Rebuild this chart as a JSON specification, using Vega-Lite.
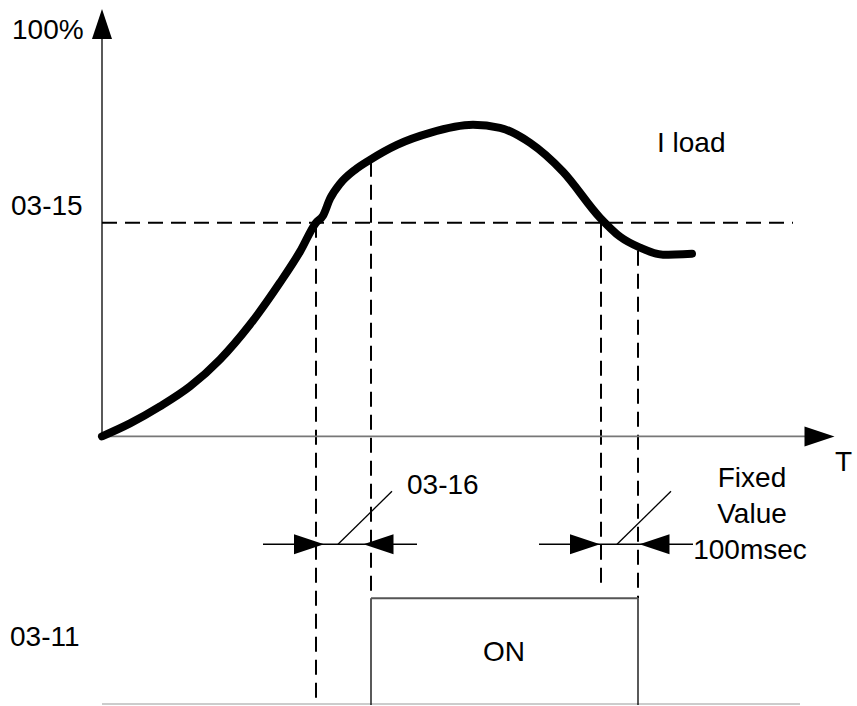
{
  "$schema": "https://vega.github.io/schema/vega-lite/v6.json",
  "width": 857,
  "height": 706,
  "padding": 0,
  "autosize": {"type": "fit", "contains": "padding"},
  "background": "white",
  "config": {"view": {"stroke": null}},
  "datasets": {
    "curve": [
      {"t": 0, "l": 0}, {"t": 28, "l": 13}, {"t": 58, "l": 30}, {"t": 88, "l": 50},
      {"t": 118, "l": 77}, {"t": 148, "l": 112}, {"t": 178, "l": 154}, {"t": 198, "l": 185},
      {"t": 214, "l": 214}, {"t": 221, "l": 221}, {"t": 228, "l": 238}, {"t": 238, "l": 253},
      {"t": 253, "l": 267}, {"t": 268, "l": 277}, {"t": 295, "l": 292}, {"t": 328, "l": 304},
      {"t": 371, "l": 312}, {"t": 398, "l": 309}, {"t": 428, "l": 294}, {"t": 461, "l": 265},
      {"t": 498, "l": 219}, {"t": 518, "l": 200}, {"t": 538, "l": 189}, {"t": 561, "l": 182},
      {"t": 590, "l": 183}
    ],
    "dashed": [
      {"t": 0, "l": 214, "t2": 691, "l2": 214},
      {"t": 214, "l": 214, "t2": 214, "l2": -269},
      {"t": 269, "l": 275, "t2": 269, "l2": -162},
      {"t": 499, "l": 214, "t2": 499, "l2": -148},
      {"t": 536, "l": 186, "t2": 536, "l2": -162}
    ],
    "thin": [
      {"t": 0, "l": 0, "t2": 0, "l2": 405},
      {"t": 161, "l": -108, "t2": 315, "l2": -108},
      {"t": 437, "l": -108, "t2": 591, "l2": -108},
      {"t": 236, "l": -108, "t2": 290, "l2": -55},
      {"t": 515, "l": -108, "t2": 569, "l2": -55},
      {"t": 269, "l": -162, "t2": 269, "l2": -269},
      {"t": 536, "l": -162, "t2": 536, "l2": -269}
    ],
    "xaxis": [{"t": 0, "l": 0, "t2": 712, "l2": 0}],
    "pulsetop": [{"t": 269, "l": -162, "t2": 536, "l2": -162}],
    "base": [{"t": 0, "l": -268, "t2": 698, "l2": -268}],
    "arrowRight": [{"t": 717.5, "l": 0}, {"t": 207, "l": -108}, {"t": 483, "l": -108}],
    "arrowLeft": [{"t": 276.5, "l": -108}, {"t": 552.5, "l": -108}],
    "arrowUp": [{"t": 0, "l": 413}],
    "textLeft": [
      {"t": -90, "l": 398, "label": "100%"},
      {"t": -91, "l": 222, "label": "03-15"},
      {"t": 555, "l": 285, "label": "I load"},
      {"t": 733, "l": -35, "label": "T"},
      {"t": 305, "l": -58, "label": "03-16"},
      {"t": -92, "l": -210, "label": "03-11"}
    ],
    "textCenter": [
      {"t": 650, "l": -51, "label": "Fixed"},
      {"t": 650, "l": -87, "label": "Value"},
      {"t": 648, "l": -123, "label": "100msec"},
      {"t": 402, "l": -225, "label": "ON"}
    ]
  },
  "layer": [
    {
      "data": {"name": "base"},
      "mark": {"type": "rule", "color": "#cccccc", "strokeWidth": 2},
      "encoding": {
        "x": {"field": "t", "type": "quantitative", "axis": null, "scale": {"domain": [-102, 755], "nice": false, "zero": false}},
        "y": {"field": "l", "type": "quantitative", "axis": null, "scale": {"domain": [-269, 437], "nice": false, "zero": false}},
        "x2": {"field": "t2"}, "y2": {"field": "l2"}
      }
    },
    {
      "data": {"name": "dashed"},
      "mark": {"type": "rule", "color": "black", "strokeWidth": 2, "strokeDash": [15, 8]},
      "encoding": {
        "x": {"field": "t", "type": "quantitative", "axis": null, "scale": {"domain": [-102, 755], "nice": false, "zero": false}},
        "y": {"field": "l", "type": "quantitative", "axis": null, "scale": {"domain": [-269, 437], "nice": false, "zero": false}},
        "x2": {"field": "t2"}, "y2": {"field": "l2"}
      }
    },
    {
      "data": {"name": "xaxis"},
      "mark": {"type": "rule", "color": "#777777", "strokeWidth": 1.6},
      "encoding": {
        "x": {"field": "t", "type": "quantitative", "axis": null, "scale": {"domain": [-102, 755], "nice": false, "zero": false}},
        "y": {"field": "l", "type": "quantitative", "axis": null, "scale": {"domain": [-269, 437], "nice": false, "zero": false}},
        "x2": {"field": "t2"}, "y2": {"field": "l2"}
      }
    },
    {
      "data": {"name": "thin"},
      "mark": {"type": "rule", "color": "black", "strokeWidth": 1.3},
      "encoding": {
        "x": {"field": "t", "type": "quantitative", "axis": null, "scale": {"domain": [-102, 755], "nice": false, "zero": false}},
        "y": {"field": "l", "type": "quantitative", "axis": null, "scale": {"domain": [-269, 437], "nice": false, "zero": false}},
        "x2": {"field": "t2"}, "y2": {"field": "l2"}
      }
    },
    {
      "data": {"name": "pulsetop"},
      "mark": {"type": "rule", "color": "#555555", "strokeWidth": 2},
      "encoding": {
        "x": {"field": "t", "type": "quantitative", "axis": null, "scale": {"domain": [-102, 755], "nice": false, "zero": false}},
        "y": {"field": "l", "type": "quantitative", "axis": null, "scale": {"domain": [-269, 437], "nice": false, "zero": false}},
        "x2": {"field": "t2"}, "y2": {"field": "l2"}
      }
    },
    {
      "data": {"name": "curve"},
      "mark": {"type": "line", "color": "black", "strokeWidth": 8, "strokeCap": "round", "strokeJoin": "round", "interpolate": "monotone"},
      "encoding": {
        "x": {"field": "t", "type": "quantitative", "axis": null, "scale": {"domain": [-102, 755], "nice": false, "zero": false}},
        "y": {"field": "l", "type": "quantitative", "axis": null, "scale": {"domain": [-269, 437], "nice": false, "zero": false}}
      }
    },
    {
      "data": {"name": "arrowRight"},
      "mark": {"type": "point", "shape": "M -1 -0.667 L 1 0 L -1 0.667 Z", "size": 900, "filled": true, "color": "black", "opacity": 1, "strokeWidth": 0},
      "encoding": {
        "x": {"field": "t", "type": "quantitative", "axis": null, "scale": {"domain": [-102, 755], "nice": false, "zero": false}},
        "y": {"field": "l", "type": "quantitative", "axis": null, "scale": {"domain": [-269, 437], "nice": false, "zero": false}}
      }
    },
    {
      "data": {"name": "arrowLeft"},
      "mark": {"type": "point", "shape": "M 1 -0.667 L -1 0 L 1 0.667 Z", "size": 900, "filled": true, "color": "black", "opacity": 1, "strokeWidth": 0},
      "encoding": {
        "x": {"field": "t", "type": "quantitative", "axis": null, "scale": {"domain": [-102, 755], "nice": false, "zero": false}},
        "y": {"field": "l", "type": "quantitative", "axis": null, "scale": {"domain": [-269, 437], "nice": false, "zero": false}}
      }
    },
    {
      "data": {"name": "arrowUp"},
      "mark": {"type": "point", "shape": "M -0.667 1 L 0 -1 L 0.667 1 Z", "size": 900, "filled": true, "color": "black", "opacity": 1, "strokeWidth": 0},
      "encoding": {
        "x": {"field": "t", "type": "quantitative", "axis": null, "scale": {"domain": [-102, 755], "nice": false, "zero": false}},
        "y": {"field": "l", "type": "quantitative", "axis": null, "scale": {"domain": [-269, 437], "nice": false, "zero": false}}
      }
    },
    {
      "data": {"name": "textLeft"},
      "mark": {"type": "text", "align": "left", "baseline": "alphabetic", "font": "Liberation Sans", "fontSize": 28, "color": "black"},
      "encoding": {
        "x": {"field": "t", "type": "quantitative", "axis": null, "scale": {"domain": [-102, 755], "nice": false, "zero": false}},
        "y": {"field": "l", "type": "quantitative", "axis": null, "scale": {"domain": [-269, 437], "nice": false, "zero": false}},
        "text": {"field": "label"}
      }
    },
    {
      "data": {"name": "textCenter"},
      "mark": {"type": "text", "align": "center", "baseline": "alphabetic", "font": "Liberation Sans", "fontSize": 28, "color": "black"},
      "encoding": {
        "x": {"field": "t", "type": "quantitative", "axis": null, "scale": {"domain": [-102, 755], "nice": false, "zero": false}},
        "y": {"field": "l", "type": "quantitative", "axis": null, "scale": {"domain": [-269, 437], "nice": false, "zero": false}},
        "text": {"field": "label"}
      }
    }
  ]
}
